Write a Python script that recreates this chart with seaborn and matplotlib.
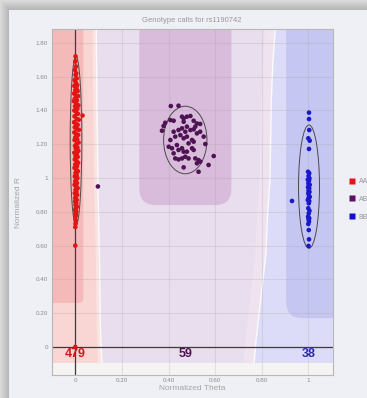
import numpy as np
import pandas as pd
import matplotlib
matplotlib.use("Agg")
import matplotlib.pyplot as plt
from matplotlib.patches import Rectangle, FancyBboxPatch, Polygon, Ellipse
from matplotlib.lines import Line2D
import seaborn as sns

# ---------------------------------------------------------------- data
title = "Genotype calls for rs1190742"
calls = ["AA", "AB", "BB"]
call_counts = [479, 59, 38]
count_label_theta = [0.0, 0.472, 1.0]

x_ticks = [0, 0.2, 0.4, 0.6, 0.8, 1.0]
x_tick_labels = ["0", "0.20", "0.40", "0.60", "0.80", "1"]
y_ticks = [0, 0.2, 0.4, 0.6, 0.8, 1.0, 1.2, 1.4, 1.6, 1.8]
y_tick_labels = ["0", "0.20", "0.40", "0.60", "0.80", "1", "1.20", "1.40", "1.60", "1.80"]

# (normalized theta, normalized R) per sample
aa_points = [
    (0.001, 1.72), (0.000, 1.69), (0.003, 1.66), (-0.002, 1.64), (0.004, 1.62), (0.001, 1.61),
    (0.006, 1.59), (-0.003, 1.58), (0.002, 1.565), (0.008, 1.55), (-0.004, 1.545), (0.005, 1.53),
    (0.000, 1.52), (0.010, 1.515), (-0.005, 1.50), (0.003, 1.49), (0.012, 1.485), (-0.002, 1.47),
    (0.007, 1.46), (-0.006, 1.455), (0.004, 1.44), (0.013, 1.43), (-0.001, 1.425), (0.009, 1.41),
    (-0.004, 1.40), (0.002, 1.395), (0.011, 1.38), (0.031, 1.37), (-0.003, 1.365), (0.006, 1.35),
    (0.015, 1.345), (-0.005, 1.33), (0.003, 1.32), (0.010, 1.315), (-0.002, 1.30), (0.007, 1.29),
    (0.016, 1.285), (-0.004, 1.27), (0.004, 1.26), (0.012, 1.255), (0.000, 1.24), (0.008, 1.23),
    (-0.003, 1.225), (0.014, 1.21), (0.005, 1.20), (-0.001, 1.19), (0.009, 1.18), (0.002, 1.175),
    (0.013, 1.16), (-0.004, 1.15), (0.006, 1.14), (0.001, 1.13), (0.010, 1.125), (-0.002, 1.11),
    (0.005, 1.10), (0.012, 1.09), (0.000, 1.08), (0.007, 1.07), (-0.003, 1.06), (0.004, 1.05),
    (0.011, 1.04), (0.001, 1.03), (0.006, 1.02), (-0.002, 1.01), (0.009, 1.00), (0.003, 0.99),
    (0.000, 0.98), (0.007, 0.97), (-0.003, 0.96), (0.004, 0.95), (0.010, 0.94), (0.001, 0.93),
    (0.005, 0.92), (-0.002, 0.91), (0.008, 0.90), (0.002, 0.89), (0.000, 0.88), (0.006, 0.87),
    (-0.001, 0.86), (0.004, 0.85), (0.001, 0.84), (0.007, 0.83), (0.002, 0.82), (-0.001, 0.81),
    (0.004, 0.80), (0.001, 0.79), (0.003, 0.78), (0.000, 0.77), (0.002, 0.75), (0.001, 0.73),
    (0.000, 0.71), (0.000, 0.60), (0.000, 0.00),
]
ab_points = [
    (0.410, 1.426), (0.443, 1.428), (0.379, 1.308), (0.372, 1.280), (0.386, 1.327), (0.408, 1.343),
    (0.422, 1.339), (0.458, 1.363), (0.465, 1.353), (0.479, 1.363), (0.494, 1.367), (0.465, 1.333),
    (0.508, 1.339), (0.522, 1.323), (0.515, 1.304), (0.536, 1.320), (0.422, 1.274), (0.443, 1.284),
    (0.458, 1.294), (0.479, 1.304), (0.472, 1.274), (0.494, 1.284), (0.508, 1.288), (0.522, 1.264),
    (0.536, 1.274), (0.551, 1.245), (0.408, 1.225), (0.429, 1.245), (0.451, 1.254), (0.465, 1.235),
    (0.479, 1.245), (0.501, 1.225), (0.508, 1.215), (0.486, 1.205), (0.436, 1.195), (0.458, 1.176),
    (0.465, 1.156), (0.443, 1.166), (0.422, 1.146), (0.429, 1.116), (0.443, 1.110), (0.458, 1.116),
    (0.472, 1.126), (0.486, 1.116), (0.515, 1.116), (0.529, 1.106), (0.522, 1.087), (0.536, 1.097),
    (0.572, 1.077), (0.594, 1.130), (0.465, 1.063), (0.529, 1.037), (0.558, 1.201), (0.501, 1.176),
    (0.401, 1.185), (0.415, 1.176), (0.508, 1.166), (0.479, 1.156), (0.097, 0.950),
]
bb_points = [
    (1.003, 1.387), (1.003, 1.349), (1.004, 1.284), (1.000, 1.235), (1.006, 1.221), (1.003, 1.172),
    (0.999, 1.037), (1.004, 1.028), (1.001, 1.012), (1.005, 0.998), (0.998, 0.990), (1.003, 0.984),
    (1.000, 0.968), (1.006, 0.960), (1.002, 0.953), (0.999, 0.945), (1.004, 0.939), (1.001, 0.925),
    (1.005, 0.918), (1.000, 0.909), (1.003, 0.895), (1.006, 0.888), (1.001, 0.880), (0.998, 0.870),
    (1.004, 0.863), (1.002, 0.850), (1.000, 0.821), (1.005, 0.806), (1.002, 0.791), (0.999, 0.771),
    (1.004, 0.762), (1.001, 0.755), (1.003, 0.742), (1.000, 0.728), (1.002, 0.692), (1.003, 0.637),
    (1.001, 0.598), (0.930, 0.864),
]

# cluster ellipses: centre theta, centre R, width, height
cluster_ellipses = [
    (0.003, 1.22, 0.050, 1.00),
    (0.472, 1.225, 0.186, 0.40),
    (1.003, 0.949, 0.090, 0.73),
]

# ---------------------------------------------------------------- style
panel_bg = "#eef0f6"
call_colors = {"AA": "#e21414", "AB": "#4e1352", "BB": "#1818cc"}
legend_colors = {"AA": "#e8101a", "AB": "#5a1060", "BB": "#1010d8"}
count_colors = {"AA": "#cc1a1a", "AB": "#4e1352", "BB": "#2a2aa8"}
zone = dict(
    aa_dark="#f4baba", aa_light="#f9d5d3", aa_edge="#f9e3e3",
    ab_base="#e9deed", ab_dark="#d9bcdb", ab_edge="#efe3ef",
    bb_light="#dcdcf8", bb_dark="#c6c6f2", floor="#f6f4f2",
)
tick_gray = "#8c8c8c"
label_gray = "#a4a4a4"

sns.set_theme(style="white")
plt.rcParams["font.family"] = ["Liberation Sans", "DejaVu Sans"]

W, H = 367, 398
fig = plt.figure(figsize=(W / 100, H / 100), dpi=100)
fig.patch.set_facecolor(panel_bg)

# window frame with a soft shadow along the top and left edges
frame = fig.add_axes([0, 0, 1, 1], zorder=-10)
frame.axis("off")
rows, cols = np.mgrid[0:H, 0:W]
d_top = np.clip(10 - rows, 0, None) / 10.0
d_left = np.clip(9 - cols, 0, None) / 9.0
d = np.maximum(d_top, d_left)
base = np.array(matplotlib.colors.to_rgb(panel_bg))
shade = 0.70 + 0.16 * d
img = np.where((d > 0)[..., None], shade[..., None] * np.ones(3), base)
frame.imshow(img, extent=[0, 1, 0, 1], aspect="auto", interpolation="bilinear")
frame.set_xlim(0, 1)
frame.set_ylim(0, 1)

ax = fig.add_axes([52 / W, 1 - 375 / H, 281 / W, 346 / H])
ax.set_xlim(-0.1, 1.106)
ax.set_ylim(-0.166, 1.882)
ax.set_facecolor(zone["ab_base"])

px_aspect = 233.0 / 169.0  # x-units vs y-units in pixels
TOP = 2.5
FLOOR = -0.097

# ---- cluster probability zones
aa_edge = [(0.114, FLOOR), (0.108, 0.1), (0.104, 0.5), (0.098, 0.9), (0.093, 1.4), (0.090, 1.882), (0.090, TOP)]
bb_edge = [(0.767, FLOOR), (0.776, 0.04), (0.797, 0.30), (0.818, 0.55), (0.826, 0.80),
           (0.836, 1.0), (0.841, 1.45), (0.847, 1.66), (0.858, 1.882), (0.858, TOP)]

ax.add_patch(Polygon([(-0.3, TOP), (-0.3, FLOOR)] + aa_edge,
                     closed=True, fc=zone["aa_light"], ec="none", zorder=0.5))
ax.add_patch(Polygon([(x - 0.016, y) for x, y in aa_edge] + [(x, y) for x, y in aa_edge[::-1]],
                     closed=True, fc=zone["aa_edge"], ec="none", zorder=0.6))
ax.add_patch(FancyBboxPatch((-0.4, 0.26), 0.434, 3.0,
                            boxstyle="round,pad=0,rounding_size=0.02",
                            mutation_aspect=px_aspect, fc=zone["aa_dark"], ec="none", zorder=0.7))

ax.add_patch(FancyBboxPatch((0.275, 0.84), 0.395, 3.0,
                            boxstyle="round,pad=0,rounding_size=0.07",
                            mutation_aspect=px_aspect, fc=zone["ab_dark"], ec="none", zorder=0.7))
ax.add_patch(Polygon([(x - 0.045, y) for x, y in bb_edge] + [(x, y) for x, y in bb_edge[::-1]],
                     closed=True, fc=zone["ab_edge"], ec="none", zorder=0.6))

ax.add_patch(Polygon(bb_edge + [(1.3, TOP), (1.3, FLOOR)],
                     closed=True, fc=zone["bb_light"], ec="none", zorder=0.5))
ax.add_patch(FancyBboxPatch((0.905, 0.17), 0.6, 3.0,
                            boxstyle="round,pad=0,rounding_size=0.07",
                            mutation_aspect=px_aspect, fc=zone["bb_dark"], ec="none", zorder=0.7))

# white seams between zones
for edge in (aa_edge, bb_edge):
    ex, ey = zip(*edge)
    ax.plot(ex, ey, color="white", lw=1.0, alpha=0.85, zorder=0.8)

# pale floor strip under the count row
ax.add_patch(Rectangle((-0.3, -0.5), 1.7, 0.5 + FLOOR, fc=zone["floor"], ec="none", zorder=0.9))

# grid
for xv in x_ticks[1:]:
    ax.axvline(xv, color="#9a9a9a", lw=0.8, alpha=0.22, zorder=1.0)
for yv in y_ticks[1:]:
    ax.axhline(yv, color="#9a9a9a", lw=0.8, alpha=0.22, zorder=1.0)

# origin axes
ax.axvline(0, color="#3c3c3c", lw=0.9, zorder=1.5)
ax.axhline(0, color="#3c3c3c", lw=0.9, zorder=1.5)

# cluster ellipses
for cx, cy, w, h in cluster_ellipses:
    ax.add_patch(Ellipse((cx, cy), w, h, fc="none", ec="#4a4a4a", lw=0.7, zorder=1.8))

# samples
frames = []
for name, pts in zip(calls, [aa_points, ab_points, bb_points]):
    t, r = zip(*pts)
    frames.append(pd.DataFrame({"theta": t, "r": r, "call": name}))
samples = pd.concat(frames, ignore_index=True)
sns.scatterplot(data=samples, x="theta", y="r", hue="call", palette=call_colors,
                hue_order=calls, s=11, linewidth=0, legend=False, ax=ax, zorder=3)

# call counts
for name, n, tx in zip(calls, call_counts, count_label_theta):
    ax.text(tx, -0.041, str(n), color=count_colors[name], fontsize=9, fontweight="bold",
            ha="center", va="center", zorder=4)

# axes cosmetics
ax.set_xticks(x_ticks)
ax.set_xticklabels(x_tick_labels)
ax.set_yticks(y_ticks)
ax.set_yticklabels(y_tick_labels)
ax.tick_params(axis="both", direction="in", length=2.5, width=0.6, colors="#9a9a9a",
               labelcolor=tick_gray, labelsize=4.5, pad=3)
ax.tick_params(axis="x", pad=2)
for sp in ax.spines.values():
    sp.set_color("#b8b8b8")
    sp.set_linewidth(0.8)
ax.set_xlabel("Normalized Theta", fontsize=6, color=label_gray)
ax.set_ylabel("Normalized R", fontsize=6, color=label_gray)
ax.xaxis.set_label_coords(0.5, -0.028)
ax.yaxis.set_label_coords(-0.107, 0.5)

fig.text(192 / W, 1 - 20 / H, title, ha="center", va="center", fontsize=5.5, color="#999999")

handles = [Line2D([], [], marker="s", linestyle="none", markersize=5,
                  markerfacecolor=legend_colors[c], markeredgecolor="none") for c in calls]
fig.legend(handles, calls, loc="upper left", bbox_to_anchor=(349 / W, 1 - 178 / H),
           frameon=False, fontsize=5, labelcolor="#999999", handlelength=0.8,
           handletextpad=0.6, labelspacing=1.55, borderaxespad=0, borderpad=0)

fig.savefig("out.png", dpi=100, facecolor=fig.get_facecolor())
